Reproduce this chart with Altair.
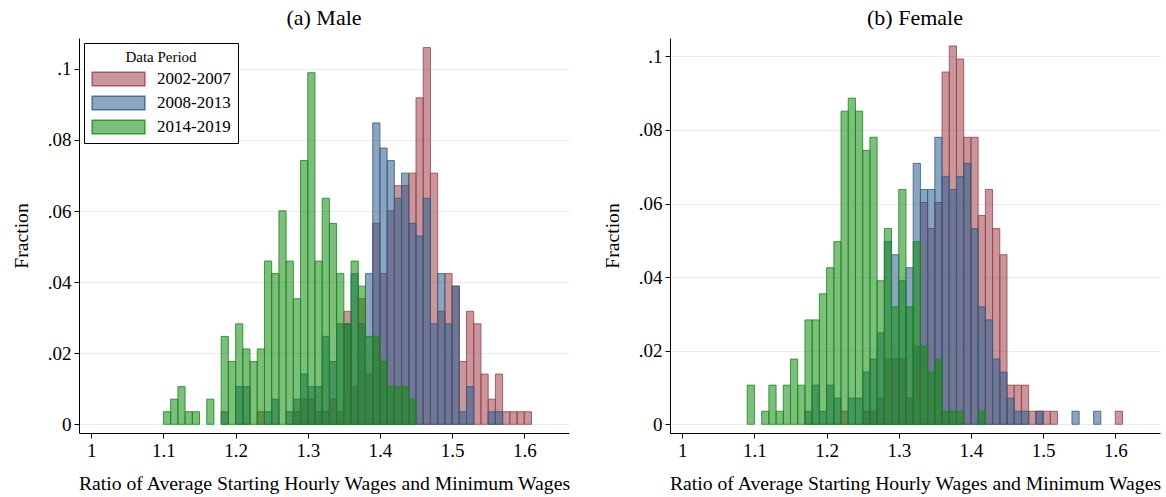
import altair as alt
import pandas as pd

PERIODS = ["2002-2007", "2008-2013", "2014-2019"]
FILLS = ["rgba(155,64,73,0.55)", "rgba(46,91,137,0.55)", "rgba(19,137,19,0.55)"]
STROKES = ["rgba(155,64,73,0.8)", "rgba(46,91,137,0.8)", "rgba(19,137,19,0.8)"]

# left edges of histogram bins (bin width 0.01)
BIN_STARTS = [1.09, 1.10, 1.11, 1.12, 1.13, 1.14, 1.15, 1.16, 1.17, 1.18,
              1.19, 1.20, 1.21, 1.22, 1.23, 1.24, 1.25, 1.26, 1.27, 1.28,
              1.29, 1.30, 1.31, 1.32, 1.33, 1.34, 1.35, 1.36, 1.37, 1.38,
              1.39, 1.40, 1.41, 1.42, 1.43, 1.44, 1.45, 1.46, 1.47, 1.48,
              1.49, 1.50, 1.51, 1.52, 1.53, 1.54, 1.55, 1.56, 1.57, 1.58,
              1.59, 1.60]
BIN_WIDTH = 0.01

# counts per bin; fraction = count / N
N_MALE = 283
N_FEMALE = 282

male_2002 = [0, 0, 0, 0, 0, 0, 0, 0, 0, 0,
             0, 0, 0, 0, 1, 0, 0, 0, 0, 1,
             2, 2, 1, 1, 2, 1, 9, 3, 10, 4,
             16, 12, 17, 19, 19, 20, 26, 30, 20, 9,
             12, 11, 5, 9, 8, 4, 2, 4, 1, 1,
             1, 1]
male_2008 = [0, 0, 0, 0, 0, 0, 0, 0, 0, 1,
             0, 3, 3, 0, 0, 1, 2, 0, 1, 2,
             4, 3, 3, 7, 5, 8, 8, 12, 8, 12,
             24, 22, 21, 18, 20, 16, 15, 18, 8, 12,
             8, 11, 1, 3, 0, 0, 1, 1, 0, 0,
             0, 0]
male_2014 = [0, 1, 2, 3, 1, 1, 0, 2, 0, 7,
             5, 8, 6, 5, 6, 13, 12, 17, 13, 10,
             21, 28, 13, 18, 16, 12, 8, 13, 11, 7,
             7, 5, 3, 3, 3, 2, 0, 0, 0, 0,
             0, 0, 0, 0, 0, 0, 0, 0, 0, 0,
             0, 0]

female_2002 = [0, 0, 0, 0, 0, 0, 0, 0, 0, 0,
               0, 0, 0, 1, 0, 0, 1, 1, 2, 5,
               5, 5, 2, 6, 17, 15, 17, 27, 29, 28,
               22, 22, 16, 18, 15, 13, 3, 3, 3, 1,
               1, 1, 1, 0, 0, 0, 0, 0, 0, 0,
               0, 1]
female_2008 = [0, 0, 0, 0, 0, 0, 0, 0, 1, 3,
               1, 3, 2, 0, 2, 2, 4, 5, 7, 14,
               13, 11, 12, 20, 18, 18, 22, 19, 18, 19,
               20, 15, 9, 8, 5, 4, 2, 1, 1, 0,
               1, 0, 0, 0, 0, 1, 0, 0, 1, 0,
               0, 0]
female_2014 = [3, 0, 1, 3, 1, 3, 5, 3, 8, 8,
               10, 12, 14, 24, 25, 24, 21, 22, 11, 15,
               9, 18, 9, 14, 6, 4, 5, 1, 1, 1,
               0, 0, 1, 0, 0, 0, 0, 0, 0, 0,
               0, 0, 0, 0, 0, 0, 0, 0, 0, 0,
               0, 0]

X_TICKS = [1.0, 1.1, 1.2, 1.3, 1.4, 1.5, 1.6]
Y_TICKS = [0.0, 0.02, 0.04, 0.06, 0.08, 0.1]

FONT = "Liberation Serif"


def make_df(series, n):
    rows = []
    for period, counts in zip(PERIODS, series):
        for start, c in zip(BIN_STARTS, counts):
            if c > 0:
                rows.append({"period": period, "start": start,
                             "end": round(start + BIN_WIDTH, 4),
                             "frac": c / n, "zero": 0.0})
    return pd.DataFrame(rows)


def panel(title, series, n, ydomain):
    df = make_df(series, n)
    legend = alt.Legend(
        title="Data Period", orient="top-left", offset=5,
        strokeColor="black", fillColor="white", padding=7,
        titleFont=FONT, titleFontSize=15, titleFontWeight="normal",
        titleColor="black", titleAnchor="middle", titlePadding=5,
        labelFont=FONT, labelFontSize=17, labelColor="black",
        symbolType="M-1,-0.252H1V0.252H-1Z", symbolSize=2777,
        symbolStrokeWidth=1.5, rowPadding=6, labelOffset=11,
        clipHeight=18,
    )
    return alt.Chart(df).mark_bar(strokeWidth=1).encode(
        x=alt.X("start:Q",
                scale=alt.Scale(domain=[0.983, 1.662], nice=False, zero=False),
                axis=alt.Axis(values=X_TICKS, format=".1~f",
                              title="Ratio of Average Starting Hourly Wages and Minimum Wages",
                              grid=False, tickSize=5, labelPadding=3,
                              titlePadding=13)),
        x2="end:Q",
        y=alt.Y("frac:Q",
                scale=alt.Scale(domain=ydomain, nice=False, zero=False),
                axis=alt.Axis(values=Y_TICKS,
                              labelExpr="datum.value == 0 ? '0' : replace(format(datum.value, '.2~f'), '0.', '.')",
                              title="Fraction", grid=True, gridColor="#e5eef0",
                              gridWidth=1, tickSize=5, labelPadding=3,
                              titlePadding=16)),
        y2="zero:Q",
        fill=alt.Fill("period:N", scale=alt.Scale(domain=PERIODS, range=FILLS),
                      legend=legend),
        stroke=alt.Stroke("period:N", scale=alt.Scale(domain=PERIODS, range=STROKES),
                          legend=legend),
    ).properties(
        width=490, height=395,
        title=alt.TitleParams(text=title, font=FONT, fontSize=22,
                              fontWeight="normal", anchor="middle", offset=8,
                              color="black"),
    )


left = panel("(a) Male", [male_2002, male_2008, male_2014], N_MALE, [-0.00245, 0.1087])
right = panel("(b) Female", [female_2002, female_2008, female_2014], N_FEMALE, [-0.00237, 0.105])

chart = alt.hconcat(left, right, spacing=31).properties(
    padding={"left": 11, "top": 7, "right": 2, "bottom": 2},
    background="white",
).configure_view(stroke=None).configure_axis(
    labelFont=FONT, titleFont=FONT, labelFontSize=19, titleFontSize=19.7,
    titleFontWeight="normal", labelColor="black", titleColor="black",
    domainColor="black", tickColor="black", domainWidth=1, tickWidth=1,
).configure_axisY(labelAngle=0)

chart.save("out.html", embed_options={"renderer": "svg", "actions": False})
